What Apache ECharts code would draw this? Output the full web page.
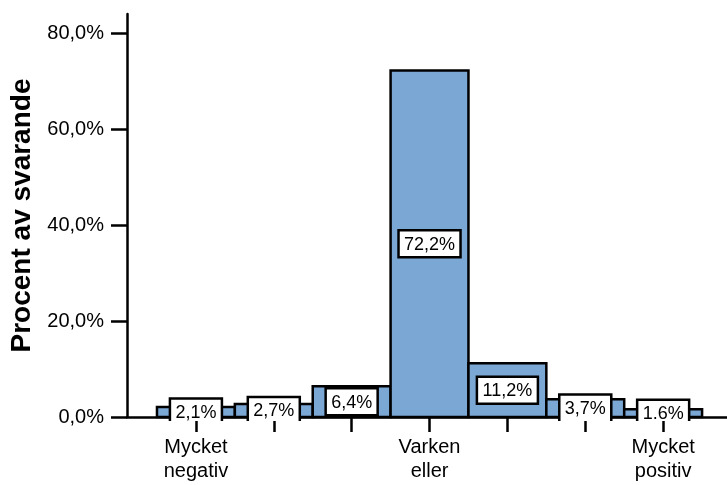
<!DOCTYPE html>
<html>
<head>
<meta charset="utf-8">
<script src="https://cdn.jsdelivr.net/npm/echarts@6/dist/echarts.min.js"></script>
<style>
  html, body { margin: 0; padding: 0; background: #ffffff; }
  #chart { width: 727px; height: 485px; }
</style>
</head>
<body>
<div id="chart"></div>
<script>
// Response categories (only the anchors carry a text label)
const categories = ['Mycket\nnegativ', '', '', 'Varken\neller', '', '', 'Mycket\npositiv'];
// Share of respondents per category, in percent
const percentValues = [2.1, 2.7, 6.4, 72.2, 11.2, 3.7, 1.6];
// Value labels printed on the bars
const valueLabels = ['2,1%', '2,7%', '6,4%', '72,2%', '11,2%', '3,7%', '1.6%'];
// Y axis tick values
const yTicks = [0, 20, 40, 60, 80];
const xTicks = categories.map((c, i) => i);

const FONT = '"Liberation Sans", Arial, sans-serif';
const LABEL_FONT_SIZE = 18;

const measureCtx = document.createElement('canvas').getContext('2d');
function textWidth(str) {
  measureCtx.font = LABEL_FONT_SIZE + 'px "Liberation Sans", Arial, sans-serif';
  return measureCtx.measureText(str).width;
}

const seriesData = percentValues.map((v, i) => [i, v]);

const chart = echarts.init(document.getElementById('chart'), null, { renderer: 'canvas' });

chart.setOption({
  backgroundColor: '#ffffff',
  animation: false,
  grid: { left: 124, right: 0, top: 14, bottom: 68, containLabel: false },
  xAxis: {
    type: 'value',
    min: -0.885,
    max: 6.82,
    axisLine: { show: true, onZero: false, lineStyle: { color: '#000', width: 2.5 } },
    axisTick: { show: true, customValues: xTicks, length: 15, lineStyle: { color: '#000', width: 2.5 } },
    splitLine: { show: false },
    axisLabel: {
      customValues: xTicks,
      formatter: v => categories[Math.round(v)] || '',
      color: '#000',
      fontFamily: FONT,
      fontSize: 20,
      lineHeight: 24,
      margin: 18
    }
  },
  yAxis: {
    type: 'value',
    min: 0,
    max: 84,
    name: 'Procent av svarande',
    nameLocation: 'middle',
    nameRotate: 90,
    nameGap: 91,
    nameTextStyle: { color: '#000', fontFamily: FONT, fontWeight: 'bold', fontSize: 28 },
    axisLine: { show: true, onZero: false, lineStyle: { color: '#000', width: 2.5 } },
    axisTick: { show: true, customValues: yTicks, length: 16, lineStyle: { color: '#000', width: 2.5 } },
    splitLine: { show: false },
    axisLabel: {
      customValues: yTicks,
      formatter: v => v.toFixed(1).replace('.', ',') + '%',
      color: '#000',
      fontFamily: FONT,
      fontSize: 20,
      margin: 23
    }
  },
  series: [
    {
      // histogram bars, one category wide each
      type: 'custom',
      z: 2,
      data: seriesData,
      encode: { x: 0, y: 1 },
      renderItem: function (params, api) {
        const i = api.value(0);
        const v = api.value(1);
        const tl = api.coord([i - 0.5, v]);
        const br = api.coord([i + 0.5, 0]);
        return {
          type: 'rect',
          shape: { x: tl[0], y: tl[1], width: br[0] - tl[0], height: br[1] - tl[1] },
          style: { fill: '#7ba7d5', stroke: '#000', lineWidth: 2.5 }
        };
      }
    },
    {
      // boxed value labels centred on each bar, cut just below the baseline
      type: 'custom',
      z: 5,
      data: seriesData,
      encode: { x: 0, y: 1 },
      renderItem: function (params, api) {
        const i = api.value(0);
        const v = api.value(1);
        const text = valueLabels[params.dataIndex];
        const c = api.coord([i, v / 2]);
        const base = api.coord([i, 0])[1];
        const w = Math.round(textWidth(text) + 11);
        const h = 27;
        const left = c[0] - w / 2;
        const right = c[0] + w / 2;
        const top = c[1] - h / 2;
        const bottom = c[1] + h / 2;
        const cut = base + 4;
        const visBottom = Math.min(bottom, cut);
        const children = [
          {
            type: 'rect',
            shape: { x: left, y: top, width: w, height: visBottom - top },
            style: { fill: '#ffffff' }
          }
        ];
        if (bottom <= cut) {
          children.push({
            type: 'rect',
            shape: { x: left, y: top, width: w, height: h },
            style: { fill: null, stroke: '#000', lineWidth: 2.5 }
          });
        } else {
          children.push({
            type: 'polyline',
            shape: { points: [[left, visBottom], [left, top], [right, top], [right, visBottom]] },
            style: { fill: null, stroke: '#000', lineWidth: 2.5 }
          });
        }
        children.push({
          type: 'text',
          x: c[0],
          y: c[1] + 1,
          style: {
            text: text,
            fill: '#000',
            fontSize: LABEL_FONT_SIZE,
            fontFamily: FONT,
            align: 'center',
            verticalAlign: 'middle'
          }
        });
        return { type: 'group', children: children };
      }
    }
  ]
});
</script>
</body>
</html>
